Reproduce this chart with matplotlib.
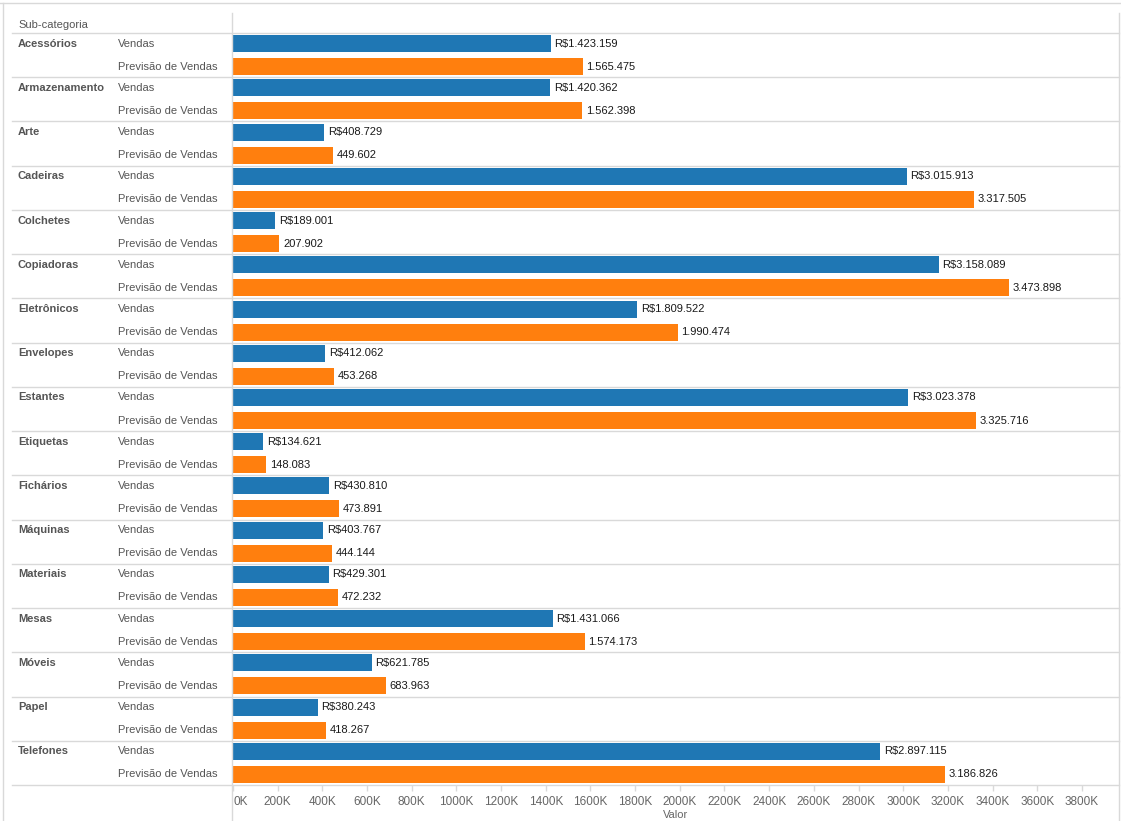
"""
Vendas x Previsão de Vendas por sub-categoria (estilo Tableau).
"""

import matplotlib
matplotlib.use("Agg")

import matplotlib.pyplot as plt
import matplotlib.ticker as mticker
from matplotlib.transforms import blended_transform_factory

plt.rcParams["font.family"] = ["Liberation Sans", "DejaVu Sans"]

# ── Data ──────────────────────────────────────────────────────────────────────
categorias = [
    "Acessórios", "Armazenamento", "Arte", "Cadeiras", "Colchetes",
    "Copiadoras", "Eletrônicos", "Envelopes", "Estantes", "Etiquetas",
    "Fichários", "Máquinas", "Materiais", "Mesas", "Móveis", "Papel",
    "Telefones",
]
vendas = [
    1423159, 1420362, 408729, 3015913, 189001, 3158089, 1809522, 412062,
    3023378, 134621, 430810, 403767, 429301, 1431066, 621785, 380243,
    2897115,
]
previsao = [
    1565475, 1562398, 449602, 3317505, 207902, 3473898, 1990474, 453268,
    3325716, 148083, 473891, 444144, 472232, 1574173, 683963, 418267,
    3186826,
]
medidas = ["Vendas", "Previsão de Vendas"]
ticks = list(range(0, 3800001, 200000))

# ── Design tokens ─────────────────────────────────────────────────────────────
COLOR_BLUE = "#1F77B4"
COLOR_ORANGE = "#FF7F0E"
COLOR_LINE = "#D9D9D9"
COLOR_HEAD = "#555555"
COLOR_TICK = "#666666"
COLOR_VAL = "#1A1A1A"
FS = 8

W, H = 1121, 821


def fx(px):
    return px / W


def fy(py):
    return 1 - py / H


def br_fmt(v):
    return f"{v:,}".replace(",", ".")


fig = plt.figure(figsize=(W / 100, H / 100), dpi=100, facecolor="white")
ax_left, ax_right, ax_top, ax_bottom = 233, 1119, 33, 785
ax = fig.add_axes([fx(ax_left), fy(ax_bottom), fx(ax_right - ax_left),
                   (ax_bottom - ax_top) / H])

n = len(categorias)
bar_h = 0.385
for i in range(n):
    ax.barh(i + 0.24, vendas[i], height=bar_h, color=COLOR_BLUE, zorder=3)
    ax.barh(i + 0.76, previsao[i], height=bar_h, color=COLOR_ORANGE, zorder=3)
    ax.text(vendas[i] + 16000, i + 0.24, "R$" + br_fmt(vendas[i]),
            va="center", ha="left", fontsize=FS, color=COLOR_VAL)
    ax.text(previsao[i] + 16000, i + 0.76, br_fmt(previsao[i]),
            va="center", ha="left", fontsize=FS, color=COLOR_VAL)

x_max = (ax_right - ax_left) / 44.68 * 200000
ax.set_xlim(0, x_max)
ax.set_ylim(n, 0)
ax.set_yticks([])
ax.set_xticks(ticks)
ax.xaxis.set_major_formatter(mticker.FuncFormatter(lambda v, _: f"{v / 1000:.0f}K"))
ax.tick_params(axis="x", colors=COLOR_LINE, labelcolor=COLOR_TICK,
               labelsize=FS + 0.5, length=4, width=1, pad=4)
ax.get_xticklabels()[0].set_horizontalalignment("left")
ax.spines[:].set_visible(False)
ax.set_xlabel("Valor", fontsize=FS, color=COLOR_TICK, labelpad=1)

# left header labels (figure x, data y)
trans = blended_transform_factory(fig.transFigure, ax.transData)
for i, cat in enumerate(categorias):
    ax.text(fx(18), i + 0.24, cat, transform=trans, va="center", ha="left",
            fontsize=FS, fontweight="bold", color=COLOR_HEAD, clip_on=False)
    for j, m in enumerate(medidas):
        ax.text(fx(118), i + 0.24 + 0.52 * j, m, transform=trans, va="center",
                ha="left", fontsize=FS, color=COLOR_HEAD, clip_on=False)
fig.text(fx(18), fy(25), "Sub-categoria", fontsize=FS, color=COLOR_HEAD,
         va="center", ha="left")

# row separators
for i in range(n + 1):
    ax.plot([fx(12), fx(ax_right)], [i, i], transform=trans, color=COLOR_LINE,
            lw=1, clip_on=False, zorder=1)

# frame lines
def fline(xs, ys):
    fig.add_artist(plt.Line2D([fx(x) for x in xs], [fy(y) for y in ys],
                              color=COLOR_LINE, lw=1))


fline([0, W], [3, 3])
fline([2.5, 2.5], [3, H])
fline([232, 232], [13, H])
fline([ax_right, ax_right], [13, H])

fig.savefig("out.png", dpi=100, facecolor="white")
